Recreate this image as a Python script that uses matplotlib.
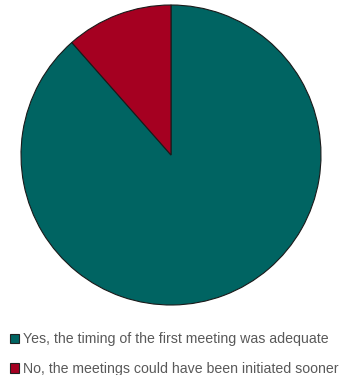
import matplotlib
matplotlib.use("Agg")
import matplotlib.pyplot as plt
from matplotlib.patches import Patch

labels = ["Yes, the timing of the first meeting was adequate",
          "No, the meetings could have been initiated sooner"]
values = [88.5, 11.5]
colors = ["#006462", "#A50021"]

fig = plt.figure(figsize=(3.46, 3.75), dpi=100)
ax = fig.add_axes([21 / 346, 70 / 375, 300 / 346, 300 / 375])
ax.pie(values, colors=colors, startangle=90, counterclock=False,
       wedgeprops={"edgecolor": "#1a1a1a", "linewidth": 0.8})
ax.set_xlim(-1, 1)
ax.set_ylim(-1, 1)
ax.set_aspect("auto")
ax.axis("off")

handles = [Patch(facecolor=c, edgecolor="#222222", linewidth=0.8) for c in colors]
fig.legend(handles, labels, loc="upper left", bbox_to_anchor=(0.0, 0.14),
           frameon=False, labelcolor="#595959",
           handlelength=0.65, handleheight=0.65, handletextpad=0.3,
           labelspacing=1.1, borderaxespad=0.3,
           prop={"family": "Liberation Sans", "size": 10.2})

fig.savefig("out.png", dpi=100)
